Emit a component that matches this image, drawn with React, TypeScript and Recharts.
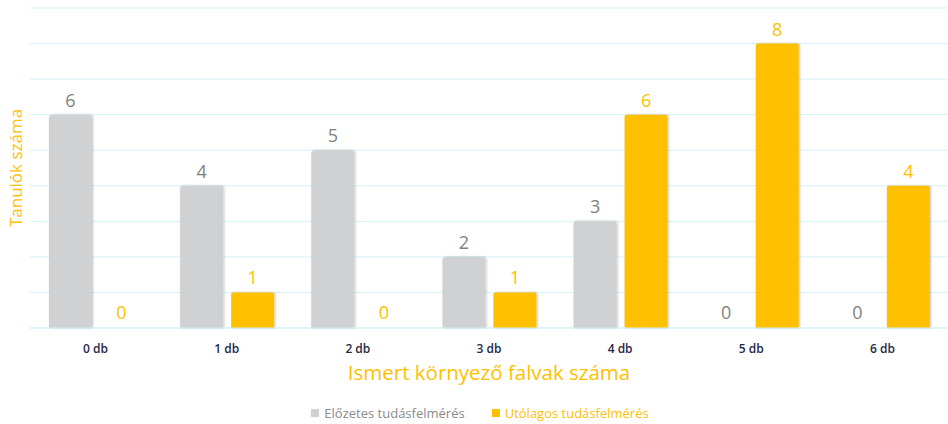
import React from "react"
import { Bar, BarChart, CartesianGrid, LabelList, Legend, Rectangle, XAxis, YAxis } from "recharts"

const categories = ["0 db", "1 db", "2 db", "3 db", "4 db", "5 db", "6 db"]
const elozetes = [6, 4, 5, 2, 3, 0, 0]
const utolagos = [0, 1, 0, 1, 6, 8, 4]
const yTicks = [0, 1, 2, 3, 4, 5, 6, 7, 8, 9]

const data = categories.map((c, i) => ({ name: c, elozetes: elozetes[i], utolagos: utolagos[i] }))

const GRAY = "#d0d1d2"
const YELLOW = "#ffc000"
const GRID = "#d4f1f9"
const FONT = "'Open Sans', 'Noto Sans', sans-serif"

// zero values keep a 1px bar so the label still shows, but the bar is not drawn
const BarShape = (props: any) => {
  if (!props.value) return null
  return <Rectangle {...props} />
}

const renderLegend = () => (
  <div style={{ display: "flex", justifyContent: "center", gap: 27, fontFamily: FONT, fontSize: 13, marginLeft: 12 }}>
    <span style={{ color: "#8a8a8a", display: "flex", alignItems: "center" }}>
      <span style={{ width: 8, height: 8, background: GRAY, display: "inline-block", marginRight: 5 }} />
      Előzetes tudásfelmérés
    </span>
    <span style={{ color: YELLOW, display: "flex", alignItems: "center" }}>
      <span style={{ width: 8, height: 8, background: YELLOW, display: "inline-block", marginRight: 5 }} />
      Utólagos tudásfelmérés
    </span>
  </div>
)

export default function App() {
  return (
    <div style={{ width: 948, height: 424, background: "#fff" }}>
      <style>{`body{margin:0}`}</style>
      <BarChart
        width={948}
        height={424}
        data={data}
        margin={{ top: 8, right: 0, left: 0, bottom: 0 }}
        barCategoryGap={19}
        barGap={8}
      >
        <defs>
          <filter id="shadow" x="-20%" y="-20%" width="140%" height="140%">
            <feDropShadow dx="1" dy="0" stdDeviation="1.2" floodColor="#000" floodOpacity="0.25" />
          </filter>
        </defs>
        <CartesianGrid vertical={false} stroke={GRID} strokeWidth={1} />
        <XAxis
          dataKey="name"
          axisLine={{ stroke: GRID }}
          tickLine={false}
          tick={{ fontSize: 12, fill: "#1f2a47", fontFamily: FONT, fontWeight: 600 }}
          tickMargin={10}
          height={76}
          label={{
            value: "Ismert környező falvak száma",
            position: "insideBottom",
            offset: 24,
            fill: YELLOW,
            fontSize: 20.5,
            fontFamily: FONT,
          }}
        />
        <YAxis
          domain={[0, 9]}
          ticks={yTicks}
          width={30}
          tickFormatter={() => ""}
          axisLine={false}
          tickLine={false}
          label={{
            value: "Tanulók száma",
            angle: -90,
            position: "insideLeft",
            offset: 16,
            fill: YELLOW,
            fontSize: 17,
            fontFamily: FONT,
            style: { textAnchor: "middle" },
          }}
        />
        <Legend verticalAlign="bottom" height={20} content={renderLegend} />
        <Bar
          dataKey="elozetes"
          name="Előzetes tudásfelmérés"
          fill={GRAY}
          radius={[3, 3, 0, 0]}
          filter="url(#shadow)"
          minPointSize={1}
          shape={BarShape}
          isAnimationActive={false}
        >
          <LabelList dataKey="elozetes" position="top" offset={8} fill="#7f7f7f" fontSize={18} fontFamily={FONT} />
        </Bar>
        <Bar
          dataKey="utolagos"
          name="Utólagos tudásfelmérés"
          fill={YELLOW}
          radius={[2, 2, 0, 0]}
          filter="url(#shadow)"
          minPointSize={1}
          shape={BarShape}
          isAnimationActive={false}
        >
          <LabelList dataKey="utolagos" position="top" offset={8} fill={YELLOW} fontSize={18} fontFamily={FONT} />
        </Bar>
      </BarChart>
    </div>
  )
}
